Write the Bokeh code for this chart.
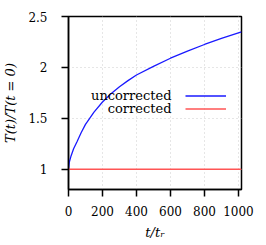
from bokeh.plotting import figure
from bokeh.models import Range1d, FixedTicker, Legend, LegendItem, Label
from bokeh.embed import file_html
from bokeh.resources import INLINE

# data
t_uncorr = [0, 5, 15, 30, 50, 75, 100, 150, 200, 250, 300, 350, 400, 500, 600, 700, 800, 900, 1018]
T_uncorr = [1.0, 1.07, 1.13, 1.2, 1.27, 1.36, 1.44, 1.56, 1.66, 1.74, 1.81, 1.87, 1.925, 2.01, 2.09, 2.16, 2.225, 2.285, 2.35]
t_corr = [0, 1018]
T_corr = [1.0, 1.0]
x_ticks = [0, 200, 400, 600, 800, 1000]
y_ticks = [1, 1.5, 2, 2.5]
series_names = ["uncorrected", "corrected"]

FONT = "DejaVu Serif"

p = figure(width=262, height=242, output_backend="svg", toolbar_location=None,
           x_range=Range1d(0, 1018), y_range=Range1d(0.8, 2.5),
           min_border_left=68, min_border_right=21, min_border_top=16, min_border_bottom=52)

p.outline_line_color = "black"
p.outline_line_width = 1.5
p.background_fill_color = "white"
p.border_fill_color = "white"

for ax in (p.xaxis[0], p.yaxis[0]):
    ax.axis_line_width = 1.5
    ax.axis_line_color = "black"
    ax.major_tick_line_width = 1.5
    ax.major_tick_line_color = "black"
    ax.major_tick_in = 0
    ax.major_tick_out = 7
    ax.minor_tick_line_color = None
    ax.major_label_text_font = FONT
    ax.major_label_text_font_size = "12px"
    ax.major_label_text_color = "black"
    ax.axis_label_text_font = FONT
    ax.axis_label_text_font_size = "13px"
    ax.axis_label_text_font_style = "italic"
    ax.axis_label_text_color = "black"

p.xaxis.ticker = FixedTicker(ticks=x_ticks)
p.yaxis.ticker = FixedTicker(ticks=y_ticks)
p.yaxis.major_label_overrides = {1: "1", 1.5: "1.5", 2: "2", 2.5: "2.5"}
p.xaxis.axis_label = "t/tᵣ"
p.yaxis.axis_label = "T(t)/T(t = 0)"
p.xaxis.major_label_standoff = 9
p.xaxis.axis_label_standoff = 6
p.yaxis.major_label_standoff = 14
p.yaxis.axis_label_standoff = 7

p.xgrid.ticker = FixedTicker(ticks=x_ticks)
p.ygrid.ticker = FixedTicker(ticks=y_ticks)
for g in (p.xgrid[0], p.ygrid[0]):
    g.grid_line_color = "#cccccc"
    g.grid_line_dash = "1 3"
    g.grid_line_width = 1

r_u = p.line(t_uncorr, T_uncorr, line_color="#1a1aff", line_width=1.3)
r_c = p.line(t_corr, T_corr, line_color="#ff5555", line_width=1.5)

legend = Legend(items=[LegendItem(label=" ", renderers=[r_u]),
                       LegendItem(label=" ", renderers=[r_c])],
                location=(117, 74), orientation="vertical",
                glyph_width=41, glyph_height=13, label_height=13, label_width=1,
                label_standoff=0, spacing=0, padding=0, margin=0,
                border_line_color=None, background_fill_alpha=0,
                label_text_font_size="1px")
p.add_layout(legend)

for name, yy in zip(series_names, [94, 80.7]):
    p.add_layout(Label(x=103, y=yy, x_units="screen", y_units="screen", text=name,
                       text_align="right", text_baseline="middle",
                       text_font=FONT, text_font_size="13px", text_color="black"))

open("out.html", "w").write(file_html(p, INLINE))
